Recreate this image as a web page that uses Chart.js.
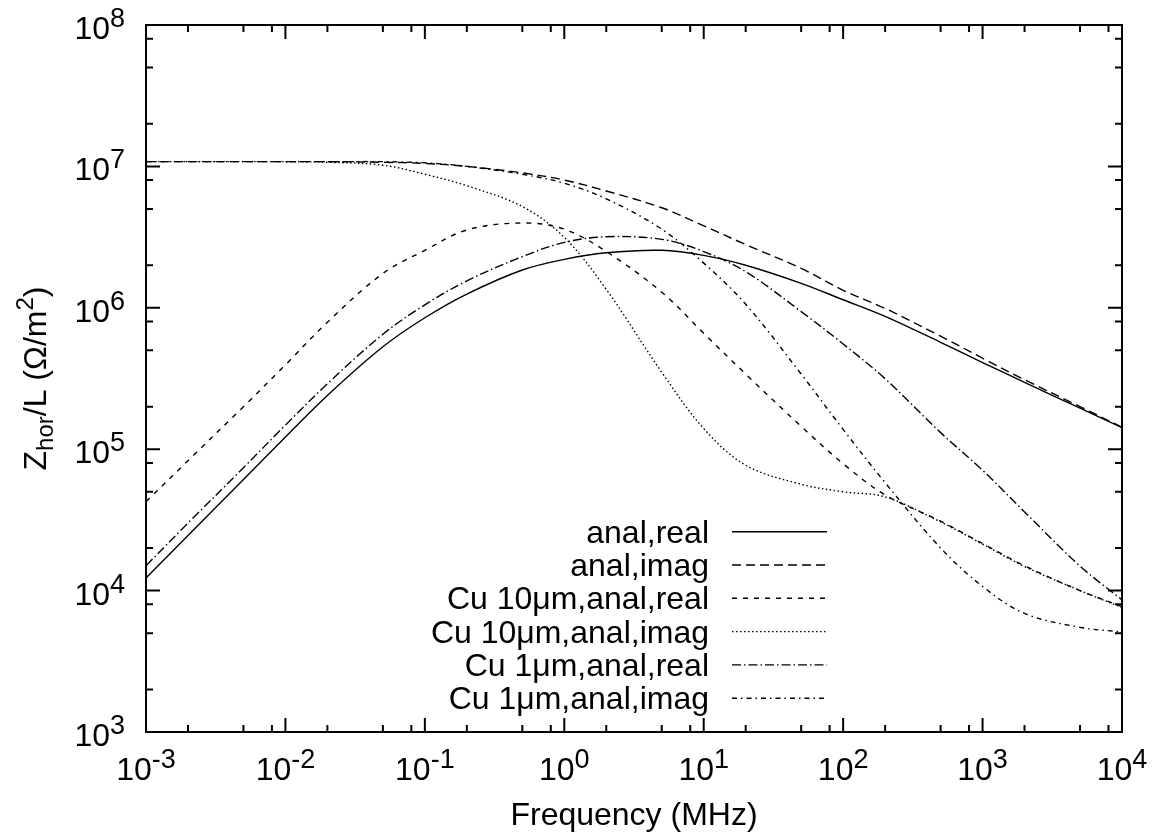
<!DOCTYPE html>
<html>
<head>
<meta charset="utf-8">
<script src="https://cdn.jsdelivr.net/npm/chart.js@4.4.1/dist/chart.umd.min.js"></script>
<style>
  body { margin: 0; background: #fff; }
  canvas { display: block; }
</style>
</head>
<body>
<canvas id="myChart" width="1159" height="840"></canvas>
<script>
// frequency samples (MHz)
const freqs = [1e-3, 2e-3, 5e-3, 1e-2, 2e-2, 5e-2, 0.1, 0.2, 0.5, 1, 2, 5, 10, 20, 50, 100, 200, 500, 1e3, 2e3, 5e3, 1e4];

const analReal = [1.23e4, 2.45e4, 6.1e4, 1.22e5, 2.4e5, 5.3e5, 8.5e5, 1.25e6, 1.85e6, 2.2e6, 2.45e6, 2.55e6, 2.35e6, 2.0e6, 1.49e6, 1.14e6, 8.7e5, 5.7e5, 4.1e5, 2.97e5, 1.95e5, 1.42e5];
const analImag = [1.08e7, 1.08e7, 1.08e7, 1.08e7, 1.08e7, 1.07e7, 1.05e7, 1.0e7, 9.0e6, 8.0e6, 6.7e6, 5.1e6, 3.8e6, 2.8e6, 1.9e6, 1.33e6, 9.9e5, 6.3e5, 4.4e5, 3.1e5, 2.0e5, 1.43e5];
const cu10Real = [4.25e4, 8.3e4, 2.0e5, 3.95e5, 7.9e5, 1.75e6, 2.55e6, 3.55e6, 3.98e6, 3.6e6, 2.5e6, 1.29e6, 6.6e5, 3.4e5, 1.45e5, 7.9e4, 4.75e4, 3.1e4, 2.15e4, 1.5e4, 1.0e4, 7.7e3];
const cu10Imag = [1.08e7, 1.08e7, 1.08e7, 1.08e7, 1.07e7, 1.02e7, 8.8e6, 7.3e6, 5.2e6, 3.15e6, 1.35e6, 3.5e5, 1.4e5, 7.7e4, 5.65e4, 5.0e4, 4.6e4, 3.06e4, 2.13e4, 1.48e4, 1.0e4, 7.6e3];
const cu1Real = [1.5e4, 3.0e4, 7.4e4, 1.48e5, 2.9e5, 6.5e5, 1.05e6, 1.55e6, 2.3e6, 2.9e6, 3.18e6, 3.05e6, 2.5e6, 1.8e6, 9.4e5, 5.55e5, 3.15e5, 1.31e5, 7.1e4, 3.6e4, 1.49e4, 8.6e3];
const cu1Imag = [1.08e7, 1.08e7, 1.08e7, 1.08e7, 1.08e7, 1.08e7, 1.06e7, 1.0e7, 8.8e6, 7.6e6, 5.9e6, 3.6e6, 2.07e6, 1.06e6, 3.4e5, 1.38e5, 5.8e4, 2.0e4, 1.07e4, 6.9e3, 5.5e3, 5.1e3];

const labels = ["anal,real", "anal,imag", "Cu 10\u03bcm,anal,real", "Cu 10\u03bcm,anal,imag", "Cu 1\u03bcm,anal,real", "Cu 1\u03bcm,anal,imag"];

// tick decades and minor steps
const xExps = [-3, -2, -1, 0, 1, 2, 3, 4];
const yExps = [3, 4, 5, 6, 7, 8];
const minorSteps = [2, 5, 8];

const FONT = '"Liberation Sans", Arial, Helvetica, sans-serif';

const seriesList = [analReal, analImag, cu10Real, cu10Imag, cu1Real, cu1Imag];
const dashes = [[], [9, 5], [5, 6], [1.5, 2.5], [9, 3, 1.5, 3], [5, 4, 1.5, 4]];

const datasets = seriesList.map((vals, i) => ({
  label: labels[i],
  data: freqs.map((f, j) => ({ x: f, y: vals[j] })),
  borderColor: "#000",
  borderWidth: 1.4,
  borderDash: dashes[i],
  pointRadius: 0,
  fill: false,
  tension: 0.35,
}));

const drawPow = (ctx, exp, x, baseline, align) => {
  ctx.font = `32px ${FONT}`;
  const w1 = ctx.measureText("10").width;
  ctx.font = `27px ${FONT}`;
  const w2 = ctx.measureText(String(exp)).width;
  const total = w1 + w2;
  let start = x - total / 2;
  if (align === "right") start = x - total;
  ctx.textAlign = "left";
  ctx.textBaseline = "alphabetic";
  ctx.font = `32px ${FONT}`;
  ctx.fillText("10", start, baseline);
  ctx.font = `27px ${FONT}`;
  ctx.fillText(String(exp), start + w1, baseline - 12);
};

const frameTicks = {
  id: "frameTicks",
  afterDraw(chart) {
    const { ctx, chartArea: a } = chart;
    const xs = chart.scales.x;
    const ys = chart.scales.y;
    ctx.save();
    ctx.strokeStyle = "#000";
    ctx.fillStyle = "#000";
    ctx.lineWidth = 2;
    ctx.setLineDash([]);
    ctx.strokeRect(a.left, a.top, a.right - a.left, a.bottom - a.top);

    ctx.beginPath();
    xExps.forEach((e) => {
      const px = xs.getPixelForValue(Math.pow(10, e));
      ctx.moveTo(px, a.bottom); ctx.lineTo(px, a.bottom - 14);
      ctx.moveTo(px, a.top); ctx.lineTo(px, a.top + 14);
      if (e < xExps[xExps.length - 1]) {
        minorSteps.forEach((m) => {
          const mx = xs.getPixelForValue(m * Math.pow(10, e));
          ctx.moveTo(mx, a.bottom); ctx.lineTo(mx, a.bottom - 7);
          ctx.moveTo(mx, a.top); ctx.lineTo(mx, a.top + 7);
        });
      }
    });
    yExps.forEach((e) => {
      const py = ys.getPixelForValue(Math.pow(10, e));
      ctx.moveTo(a.left, py); ctx.lineTo(a.left + 14, py);
      ctx.moveTo(a.right, py); ctx.lineTo(a.right - 14, py);
      if (e < yExps[yExps.length - 1]) {
        minorSteps.forEach((m) => {
          const my = ys.getPixelForValue(m * Math.pow(10, e));
          ctx.moveTo(a.left, my); ctx.lineTo(a.left + 7, my);
          ctx.moveTo(a.right, my); ctx.lineTo(a.right - 7, my);
        });
      }
    });
    ctx.stroke();

    // tick labels
    xExps.forEach((e) => {
      drawPow(ctx, e, xs.getPixelForValue(Math.pow(10, e)), a.bottom + 48, "center");
    });
    yExps.forEach((e) => {
      drawPow(ctx, e, a.left - 21, ys.getPixelForValue(Math.pow(10, e)) + 14, "right");
    });

    // x title
    ctx.font = `32px ${FONT}`;
    ctx.textAlign = "center";
    ctx.fillText("Frequency (MHz)", (a.left + a.right) / 2, 825);

    // y title
    ctx.save();
    ctx.translate(46, (a.top + a.bottom) / 2);
    ctx.rotate(-Math.PI / 2);
    const parts = [
      ["Z", 32, 0],
      ["hor", 24, 7],
      ["/L (\u03a9/m", 32, 0],
      ["2", 24, -13],
      [")", 32, 0],
    ];
    let total = 0;
    parts.forEach((p) => {
      ctx.font = `${p[1]}px ${FONT}`;
      total += ctx.measureText(p[0]).width;
    });
    let cx = -total / 2;
    ctx.textAlign = "left";
    parts.forEach((p) => {
      ctx.font = `${p[1]}px ${FONT}`;
      ctx.fillText(p[0], cx, p[2]);
      cx += ctx.measureText(p[0]).width;
    });
    ctx.restore();

    // legend
    chart.data.datasets.forEach((ds, i) => {
      const ly = 531.7 + i * 33.3;
      ctx.font = `32px ${FONT}`;
      ctx.textAlign = "right";
      ctx.fillText(ds.label, 709, ly + 11);
      ctx.beginPath();
      ctx.lineWidth = ds.borderWidth;
      ctx.setLineDash(ds.borderDash);
      ctx.moveTo(732, ly);
      ctx.lineTo(827, ly);
      ctx.stroke();
    });
    ctx.restore();
  },
};

const canvas = document.getElementById("myChart");
new Chart(canvas, {
  type: "line",
  data: { datasets: datasets },
  options: {
    responsive: false,
    animation: false,
    layout: { padding: { left: 146, right: 37, top: 25, bottom: 108 } },
    scales: {
      x: { type: "logarithmic", min: 1e-3, max: 1e4, display: false },
      y: { type: "logarithmic", min: 1e3, max: 1e8, display: false },
    },
    plugins: {
      legend: { display: false },
      tooltip: { enabled: false },
    },
  },
  plugins: [frameTicks],
});
</script>
</body>
</html>
